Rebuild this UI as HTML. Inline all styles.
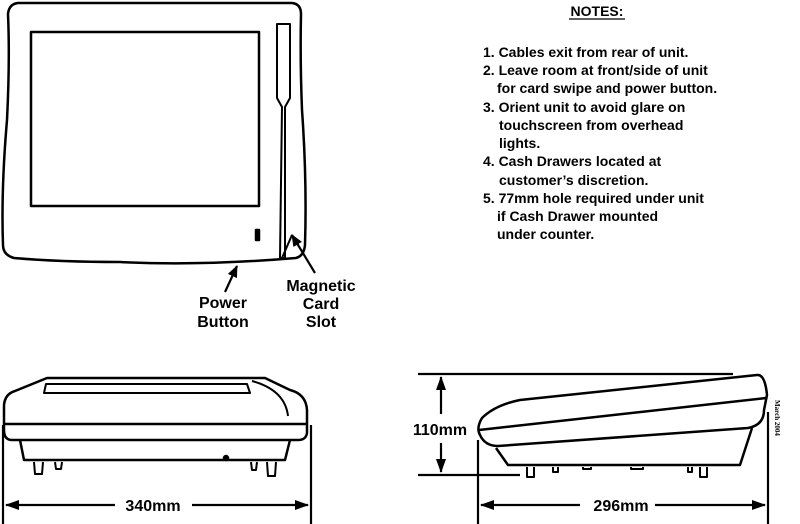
<!DOCTYPE html>
<html><head><style>
html,body{margin:0;padding:0;background:#fff;}
svg{display:block;}
text{font-family:"Liberation Sans",sans-serif;font-weight:bold;fill:#000;}
</style></head><body>
<svg width="800" height="524" viewBox="0 0 800 524" xmlns="http://www.w3.org/2000/svg">
<defs>
<marker id="ah" viewBox="0 0 14 10" refX="13" refY="5" markerWidth="14" markerHeight="10" markerUnits="userSpaceOnUse" orient="auto-start-reverse"><path d="M0,0 L14,5 L0,10 z" fill="#000"/></marker>
<marker id="ahs" viewBox="0 0 12 10" refX="11" refY="5" markerWidth="12" markerHeight="10" markerUnits="userSpaceOnUse" orient="auto-start-reverse"><path d="M0,0 L12,5 L0,10 z" fill="#000"/></marker>
</defs>
<g fill="none" stroke="#000" stroke-width="2.5" stroke-linejoin="round">
<path d="M18,3 L292,3 Q301,4 301,14 Q300,60 302,110 Q307,180 305,245 Q304,256 296,258 Q200,266 120,262 Q60,262 14,258 Q3,255 3,245 Q1,190 7,120 Q10,60 8,14 Q9,4 18,3 Z"/>
<rect x="31" y="32" width="228" height="174"/>
<path d="M277,24 L290,24 L290,98 L285,107 L285,258 L280,258 L282,107 L277,98 Z" stroke-width="2"/>
<rect x="256" y="230" width="3" height="10" fill="#000"/>
<line x1="292" y1="235" x2="282" y2="258" stroke-width="2"/>
<path d="M47,378 L265,378 L290,390 Q306,394 307,410 L307,433 Q306,440 298,440 L12,440 Q4,440 4,430 L4,405 Q5,394 15,391 Z"/>
<line x1="5" y1="424" x2="306" y2="424"/>
<path d="M46,384 L247,384 L250,393 L44,393 Z" stroke-width="2"/>
<path d="M252,381 Q285,390 288,416" stroke-width="2"/>
<path d="M20,440 L24,460 L285,460 L290,440"/>
<path d="M34,462 L35,474 L42,474 L43,462 M55,462 L56,469 L61,469 L62,462 M251,462 L252,470 L256,470 L257,462 M267,462 L268,476 L275,476 L276,462" stroke-width="2"/>
<circle cx="226" cy="458" r="2" fill="#000"/>
<path d="M757,375 Q765,374 767,395 L764,410 Q764,425 748,428 L498,446 Q485,446 480,435 Q476,428 482,418 Q495,405 520,400 Z"/>
<line x1="479" y1="430" x2="766" y2="398"/>
<path d="M496,448 L508,465 L740,465 L752,428"/>
<path d="M527,467 L527,477 L534,477 L534,467 M553,467 L553,472 L558,472 L558,467 M583,467 L583,469 L591,469 L591,467 M631,467 L631,469 L643,469 L643,467 M688,467 L688,472 L692,472 L692,467 M700,467 L700,477 L707,477 L707,467" stroke-width="2"/>
</g>
<g stroke="#000" stroke-width="2.2" fill="none">
<line x1="225" y1="292" x2="237" y2="266" marker-end="url(#ahs)"/>
<line x1="315" y1="273" x2="292" y2="235" marker-end="url(#ahs)"/>
<line x1="3" y1="425" x2="3" y2="524"/>
<line x1="311" y1="425" x2="311" y2="524"/>
<line x1="6" y1="505" x2="115" y2="505" marker-start="url(#ah)"/>
<line x1="192" y1="505" x2="308" y2="505" marker-end="url(#ah)"/>
<line x1="418" y1="374" x2="733" y2="374"/>
<line x1="418" y1="475" x2="520" y2="475"/>
<line x1="441" y1="377" x2="441" y2="414" marker-start="url(#ah)"/>
<line x1="441" y1="443" x2="441" y2="472" marker-end="url(#ah)"/>
<line x1="478" y1="440" x2="478" y2="524"/>
<line x1="768" y1="412" x2="768" y2="524"/>
<line x1="481" y1="505" x2="580" y2="505" marker-start="url(#ah)"/>
<line x1="655" y1="505" x2="765" y2="505" marker-end="url(#ah)"/>
</g>
<g font-size="16">
<text x="223" y="308" text-anchor="middle">Power</text>
<text x="223" y="327" text-anchor="middle">Button</text>
<text x="321" y="291" text-anchor="middle">Magnetic</text>
<text x="321" y="309" text-anchor="middle">Card</text>
<text x="321" y="327" text-anchor="middle">Slot</text>
<text x="153" y="511" text-anchor="middle">340mm</text>
<text x="621" y="511" text-anchor="middle">296mm</text>
<text x="440" y="435" text-anchor="middle" style="paint-order:stroke" stroke="#fff" stroke-width="4">110mm</text>
</g>
<text x="597" y="16" font-size="14" text-anchor="middle">NOTES:</text>
<line x1="569" y1="19" x2="625" y2="19" stroke="#000" stroke-width="1.3"/>
<g font-size="14">
<text x="483" y="57">1. Cables exit from rear of unit.</text>
<text x="483" y="75">2. Leave room at front/side of unit</text>
<text x="497" y="93">for card swipe and power button.</text>
<text x="483" y="112">3. Orient unit to avoid glare on</text>
<text x="499" y="130">touchscreen from overhead</text>
<text x="499" y="148">lights.</text>
<text x="483" y="166">4. Cash Drawers located at</text>
<text x="499" y="185">customer’s discretion.</text>
<text x="483" y="203">5. 77mm hole required under unit</text>
<text x="497" y="221">if Cash Drawer mounted</text>
<text x="497" y="239">under counter.</text>
</g>
<text x="775" y="400" font-size="7" transform="rotate(90 775 400)" style="font-family:'Liberation Serif',serif">March  2004</text>
</svg>
</body></html>
